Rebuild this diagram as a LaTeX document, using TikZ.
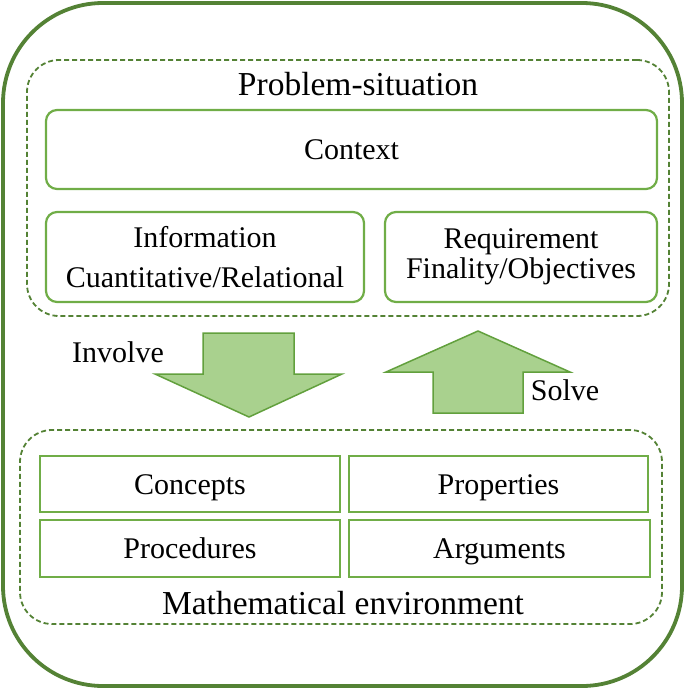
\documentclass[tikz,border=0pt]{standalone}
\usepackage{fontspec}
\setmainfont{Liberation Serif}
\definecolor{dkgreen}{HTML}{548235}
\definecolor{midgreen}{HTML}{70AD47}
\definecolor{ltgreen}{HTML}{A9D18E}
\definecolor{arrline}{HTML}{62A03D}
\begin{document}
\begin{tikzpicture}[x=1pt,y=-1pt,
  outerbox/.style={draw=dkgreen, line width=3.8pt, rounded corners=100pt},
  dashbox/.style={draw=dkgreen, line width=1.8pt, dash pattern=on 5pt off 3pt, rounded corners=32pt, inner sep=0pt},
  rbox/.style={draw=midgreen, line width=2.2pt, rounded corners=11pt, inner sep=0pt, align=center, font=\fontsize{30}{30}\selectfont},
  sbox/.style={draw=midgreen, line width=2.4pt, inner sep=0pt, align=center, text height=22pt, text depth=2pt, font=\fontsize{30}{30}\selectfont},
  lbl/.style={inner sep=0pt, font=\fontsize{30}{30}\selectfont},
  title/.style={inner sep=0pt, font=\fontsize{33.5}{36}\selectfont},
  bigarrow/.style={draw=arrline, line width=1.5pt, fill=ltgreen, line join=miter}
]
\useasboundingbox (0,0) rectangle (685,689);
\node[outerbox, minimum width=679pt, minimum height=683pt] (outer) at (342.5,344.5) {};
% problem situation
\node[dashbox, minimum width=642pt, minimum height=256pt] (prob) at (348,188) {};
\node[title] (probt) at (358,84) {Problem-situation};
\node[rbox, minimum width=611pt, minimum height=79pt] (context) at (351.5,149.5) {Context};
\node[rbox, minimum width=318pt, minimum height=90pt] (info) at (205,257) {Information\\[10pt]Cuantitative/Relational};
\node[rbox, minimum width=272pt, minimum height=90pt] (req) at (521,257) {Requirement\\Finality/Objectives};
% arrows
\draw[bigarrow] (203,333) -- (294,333) -- (294,374) -- (342,374) -- (249,417) -- (155,374) -- (203,374) -- cycle;
\draw[bigarrow] (433,413) -- (523,413) -- (523,372) -- (570,372) -- (478,331) -- (386,372) -- (433,372) -- cycle;
\node[lbl] (involve) at (118,352) {Involve};
\node[lbl] (solve) at (565,390) {Solve};
% mathematical environment
\node[dashbox, minimum width=642pt, minimum height=194pt] (math) at (341,527) {};
\node[sbox, minimum width=300pt, minimum height=56pt] (concepts) at (190,484) {Concepts};
\node[sbox, minimum width=299pt, minimum height=56pt] (props) at (498.5,484) {Properties};
\node[sbox, minimum width=300pt, minimum height=57pt] (procs) at (190,548.5) {Procedures};
\node[sbox, minimum width=301pt, minimum height=57pt] (args) at (499.5,548.5) {Arguments};
\node[title] (matht) at (343,603) {Mathematical environment};
\end{tikzpicture}
\end{document}
